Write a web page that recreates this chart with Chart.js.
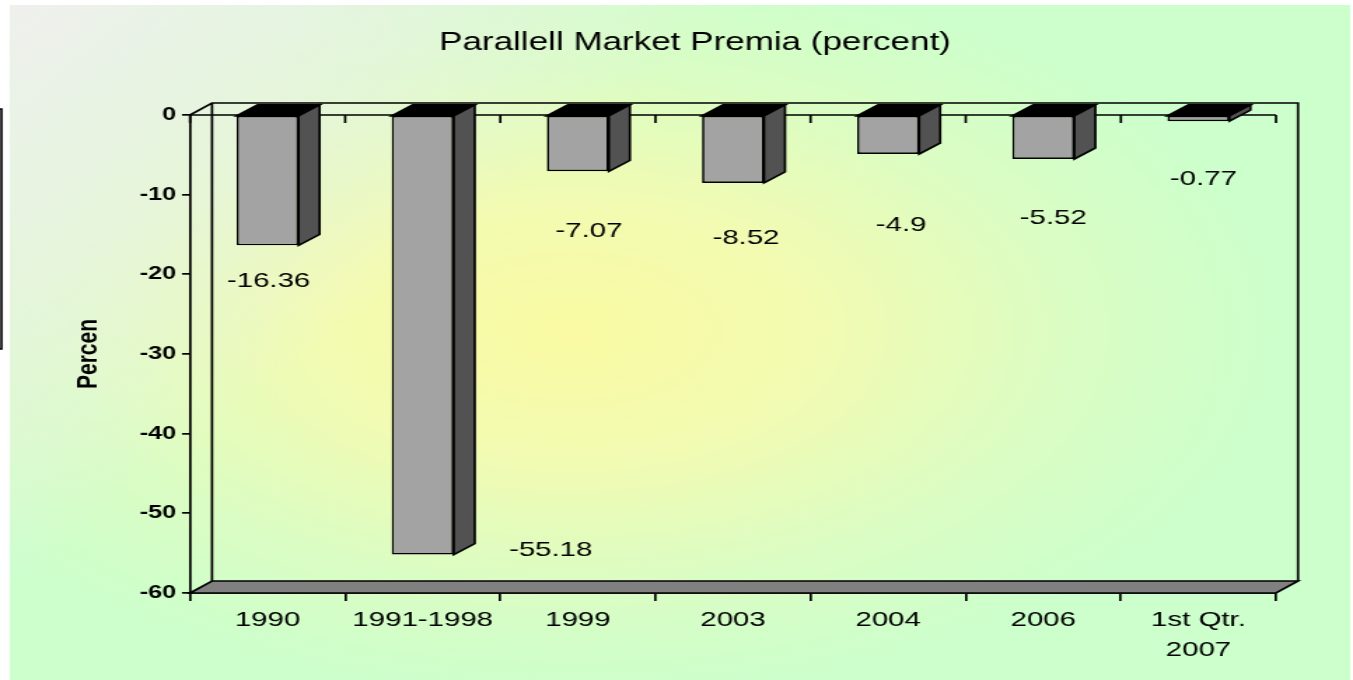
<!DOCTYPE html>
<html>
<head>
<meta charset="utf-8">
<title>Parallell Market Premia</title>
<script src="https://cdn.jsdelivr.net/npm/chart.js@4.4.0/dist/chart.umd.min.js"></script>
<style>
  html, body { margin: 0; padding: 0; background: #fff; overflow: hidden; }
  #chart { display: block; }
</style>
</head>
<body>
<!-- the original picture is stretched sideways, so the canvas is drawn narrow and widened by css -->
<canvas id="chart" width="966" height="680" style="width:1353px;height:680px"></canvas>
<script>
// Data
const categories = ['1990', '1991-1998', '1999', '2003', '2004', '2006', ['1st Qtr.', '2007']];
const premia = [-16.36, -55.18, -7.07, -8.52, -4.9, -5.52, -0.77];
const yMin = -60;
const yMax = 0;
const yStep = 10;
const chartTitle = 'Parallell Market Premia (percent)';
const yTitle = 'Percen';

// Helpers
const FONT = '"Liberation Sans", Arial, sans-serif';
const SX = 1353 / 966;            // horizontal stretch of the canvas
const px = v => v / SX;           // screen px (horizontal) -> canvas units
const WALL = { dx: px(22), dy: -12 };
const BAR = { dx: px(21), dy: -11 };
// where each value label sits, relative to the end of its bar (screen px)
const labelShift = [[1, 36], [128, -4], [11, 60], [13, 55], [13, 71], [10, 59], [5, 58]];

Chart.defaults.font.family = FONT;

const background = {
  id: 'background',
  beforeDraw(chart) {
    const ctx = chart.ctx;
    const x0 = px(10), y0 = 5, x1 = px(1350), y1 = 680;
    ctx.save();
    ctx.fillStyle = '#fff';
    ctx.fillRect(0, 0, chart.width, chart.height);
    ctx.beginPath();
    ctx.rect(x0, y0, x1 - x0, y1 - y0);
    ctx.clip();
    ctx.fillStyle = '#ccffcc';
    ctx.fillRect(x0, y0, x1 - x0, y1 - y0);

    // yellow glow in the middle
    ctx.save();
    ctx.translate(px(570), 330);
    ctx.scale(1, 0.72);
    const g = ctx.createRadialGradient(0, 0, 0, 0, 0, px(720));
    g.addColorStop(0, '#fafaa2');
    g.addColorStop(0.35, '#f2fbb2');
    g.addColorStop(0.7, '#dafdc4');
    g.addColorStop(1, '#ccffcc');
    ctx.fillStyle = g;
    ctx.fillRect(-1200, -1200, 2400, 2400);
    ctx.restore();

    // greyish top left corner
    const lg = ctx.createLinearGradient(x0, y0, px(420), 270);
    lg.addColorStop(0, 'rgba(240,240,238,1)');
    lg.addColorStop(0.5, 'rgba(238,241,232,0.65)');
    lg.addColorStop(1, 'rgba(238,241,232,0)');
    ctx.fillStyle = lg;
    ctx.fillRect(x0, y0, x1 - x0, y1 - y0);
    ctx.restore();

    // cut-off box at the left edge
    ctx.save();
    ctx.strokeStyle = '#000';
    ctx.lineWidth = 1.6;
    ctx.beginPath();
    ctx.moveTo(-2, 109);
    ctx.lineTo(px(1.5), 109);
    ctx.lineTo(px(1.5), 349);
    ctx.lineTo(-2, 349);
    ctx.stroke();
    ctx.restore();

    // title
    ctx.save();
    ctx.fillStyle = '#000';
    ctx.font = '25px ' + FONT;
    ctx.textAlign = 'center';
    ctx.textBaseline = 'middle';
    ctx.fillText(chartTitle, px(695), 43);
    ctx.restore();
  }
};

const frame3d = {
  id: 'frame3d',
  beforeDatasetsDraw(chart) {
    const { ctx, chartArea: a, scales: { x, y } } = chart;
    ctx.save();
    ctx.strokeStyle = '#000';
    ctx.lineWidth = 1.7;
    ctx.lineJoin = 'miter';

    // floor
    ctx.beginPath();
    ctx.moveTo(a.left, a.bottom);
    ctx.lineTo(a.right, a.bottom);
    ctx.lineTo(a.right + WALL.dx, a.bottom + WALL.dy);
    ctx.lineTo(a.left + WALL.dx, a.bottom + WALL.dy);
    ctx.closePath();
    ctx.fillStyle = '#808080';
    ctx.fill();
    ctx.stroke();

    // walls
    ctx.beginPath();
    ctx.moveTo(a.left, a.top);
    ctx.lineTo(a.left + WALL.dx, a.top + WALL.dy);
    ctx.lineTo(a.right + WALL.dx, a.top + WALL.dy);
    ctx.lineTo(a.right + WALL.dx, a.bottom + WALL.dy);
    ctx.moveTo(a.left + WALL.dx, a.top + WALL.dy);
    ctx.lineTo(a.left + WALL.dx, a.bottom + WALL.dy);
    ctx.stroke();

    // zero line with category ticks
    const zy = y.getPixelForValue(0);
    const half = (x.getPixelForValue(1) - x.getPixelForValue(0)) / 2;
    ctx.beginPath();
    ctx.moveTo(a.left, zy);
    ctx.lineTo(a.right, zy);
    for (let i = 0; i <= categories.length; i++) {
      const tx = i < categories.length ? x.getPixelForValue(i) - half : x.getPixelForValue(i - 1) + half;
      ctx.moveTo(tx, zy);
      ctx.lineTo(tx, zy + 8);
    }
    ctx.stroke();

    // top and side faces of the bars
    chart.getDatasetMeta(0).data.forEach(bar => {
      const { x: bx, y: by, base, width } = bar.getProps(['x', 'y', 'base', 'width'], true);
      const l = bx - width / 2, r = bx + width / 2;
      ctx.beginPath();
      ctx.moveTo(l, base);
      ctx.lineTo(r, base);
      ctx.lineTo(r + BAR.dx, base + BAR.dy);
      ctx.lineTo(l + BAR.dx, base + BAR.dy);
      ctx.closePath();
      ctx.fillStyle = '#000';
      ctx.fill();
      ctx.stroke();

      ctx.beginPath();
      ctx.moveTo(r, base);
      ctx.lineTo(r + BAR.dx, base + BAR.dy);
      ctx.lineTo(r + BAR.dx, by + BAR.dy);
      ctx.lineTo(r, by);
      ctx.closePath();
      ctx.fillStyle = '#525252';
      ctx.fill();
      ctx.stroke();
    });
    ctx.restore();
  }
};

const valueLabels = {
  id: 'valueLabels',
  afterDatasetsDraw(chart) {
    const ctx = chart.ctx;
    ctx.save();
    ctx.fillStyle = '#000';
    ctx.font = '21px ' + FONT;
    ctx.textAlign = 'center';
    ctx.textBaseline = 'middle';
    chart.getDatasetMeta(0).data.forEach((bar, i) => {
      const [sx, sy] = labelShift[i];
      ctx.fillText(String(premia[i]), bar.x + px(sx), bar.y + sy);
    });
    ctx.restore();
  }
};

new Chart(document.getElementById('chart'), {
  type: 'bar',
  data: {
    labels: categories,
    datasets: [{
      data: premia,
      backgroundColor: '#a3a3a3',
      borderColor: '#000',
      borderWidth: 1.7,
      borderSkipped: false,
      barPercentage: 0.4,
      categoryPercentage: 1
    }]
  },
  options: {
    responsive: false,
    animation: false,
    devicePixelRatio: 1,
    layout: { padding: { left: 50, right: 966 - px(1276), top: 115, bottom: 0 } },
    plugins: {
      legend: { display: false },
      tooltip: { enabled: false },
      title: { display: false }
    },
    scales: {
      x: {
        grid: { offset: true, drawOnChartArea: false, color: '#000', lineWidth: 1.7, tickLength: 8 },
        border: { display: true, color: '#000', width: 1.7 },
        ticks: { color: '#000', font: { size: 21, lineHeight: 1.4 }, padding: 5, autoSkip: false, maxRotation: 0 },
        afterFit: s => { s.height = 87; }
      },
      y: {
        min: yMin,
        max: yMax,
        ticks: { stepSize: yStep, color: '#000', font: { size: 18, weight: 'bold' }, padding: px(6) },
        grid: { drawOnChartArea: false, color: '#000', lineWidth: 1.7, tickLength: px(8) },
        border: { display: true, color: '#000', width: 1.7 },
        title: { display: true, text: yTitle, color: '#000', font: { size: 21, weight: 'bold' }, padding: { top: 1, bottom: 0 } },
        afterFit: s => { s.width = px(190) - 50; }
      }
    }
  },
  plugins: [background, frame3d, valueLabels]
});
</script>
</body>
</html>
